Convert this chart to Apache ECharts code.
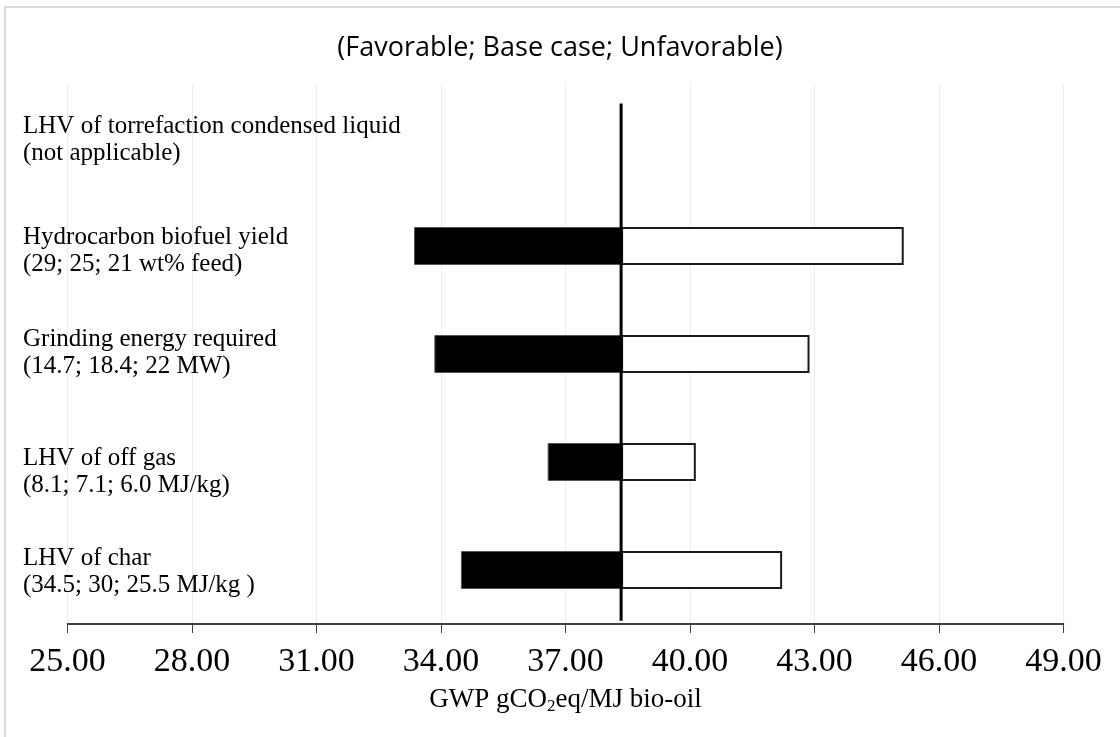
<!DOCTYPE html>
<html>
<head>
<meta charset="utf-8">
<script src="https://cdn.jsdelivr.net/npm/echarts@6/dist/echarts.min.js"></script>
<style>
  html, body { margin: 0; padding: 0; background: #fff; }
  #chart { width: 1120px; height: 737px; }
</style>
</head>
<body>
<div id="chart"></div>
<script>
// Sensitivity of GWP to key torrefaction parameters (tornado chart)
const categories = [
  'LHV of torrefaction condensed liquid\n(not applicable)',
  'Hydrocarbon biofuel yield\n(29; 25; 21 wt% feed)',
  'Grinding energy required\n(14.7; 18.4; 22 MW)',
  'LHV of off gas\n(8.1; 7.1; 6.0 MJ/kg)',
  'LHV of char\n(34.5; 30; 25.5 MJ/kg )'
];
// GWP (gCO2eq/MJ bio-oil) for the favorable and unfavorable cases
const favorable   = [null, 33.35, 33.84, 36.57, 34.48];
const unfavorable = [null, 45.15, 42.88, 40.14, 42.22];
const baseCase = 38.34;
const xTicks = { min: 25, max: 49, step: 3 };

// stacked bars: invisible offset, then the favorable span, then the unfavorable span
const offset = favorable.map(v => v == null ? null : v);
const favSpan = favorable.map(v => v == null ? null : +(baseCase - v).toFixed(3));
const unfavSpan = unfavorable.map(v => v == null ? null : +(v - baseCase).toFixed(3));

const serif = 'Liberation Serif';

// small vertical nudges for the parameter text blocks (px, downward)
const labelNudge = [2, 5, -1, 10, 2];
const labelRich = {};
labelNudge.forEach((n, i) => {
  labelRich['p' + i] = {
    fontFamily: serif, fontSize: 25, lineHeight: 27, color: '#000',
    padding: n >= 0 ? [2 * n, 0, 0, 0] : [0, 0, -2 * n, 0]
  };
});

const chart = echarts.init(document.getElementById('chart'));
chart.setOption({
  animation: false,
  backgroundColor: '#fff',
  title: {
    text: '(Favorable; Base case; Unfavorable)',
    left: 'center',
    top: 30,
    textStyle: { fontFamily: 'Open Sans', fontWeight: 'normal', fontSize: 27, color: '#000' }
  },
  graphic: [{
    type: 'rect',
    shape: { x: 5, y: 7, width: 1200, height: 800 },
    style: { fill: 'none', stroke: '#d9d9d9', lineWidth: 2 },
    silent: true
  }],
  grid: { left: 67.5, right: 56.5, top: 84, bottom: 113, containLabel: false, outerBoundsMode: 'none' },
  xAxis: {
    type: 'value',
    min: xTicks.min, max: xTicks.max, interval: xTicks.step,
    axisLine: { show: true, onZero: false, lineStyle: { color: '#000', width: 1.5 } },
    axisTick: { show: true, length: 9, lineStyle: { color: '#444', width: 1 } },
    axisLabel: {
      margin: 21,
      formatter: v => v.toFixed(2),
      fontFamily: serif, fontSize: 34, color: '#000'
    },
    splitLine: { show: true, lineStyle: { color: '#ececec', width: 1 } },
    name: '{a|GWP gCO}{s|2}{a|eq/MJ bio-oil}',
    nameLocation: 'middle',
    nameGap: 61,
    nameTextStyle: {
      rich: {
        a: { fontFamily: serif, fontSize: 27, color: '#000' },
        s: { fontFamily: serif, fontSize: 17, color: '#000', padding: [13, 0, 0, 0] }
      }
    }
  },
  yAxis: [{
    type: 'category',
    data: categories,
    inverse: true,
    axisLine: { show: false },
    axisTick: { show: false },
    splitLine: { show: false },
    axisLabel: {
      align: 'left',
      margin: 44.5,
      fontFamily: serif, fontSize: 25, lineHeight: 27, color: '#000',
      formatter: (value, index) => value.split('\n').map(line => `{p${index}|${line}}`).join('\n'),
      rich: labelRich
    }
  }, {
    type: 'value',
    min: 0, max: 5, inverse: true, show: false
  }],
  series: [{
    name: 'offset', type: 'bar', stack: 'gwp', barWidth: 38,
    data: offset, itemStyle: { color: 'transparent' }, silent: true
  }, {
    name: 'Favorable', type: 'bar', stack: 'gwp', barWidth: 38,
    data: favSpan,
    itemStyle: { color: '#000', borderColor: '#555', borderWidth: 1 }
  }, {
    name: 'Unfavorable', type: 'bar', stack: 'gwp', barWidth: 38,
    data: unfavSpan,
    itemStyle: { color: '#fff', borderColor: '#1a1a1a', borderWidth: 2 }
  }, {
    name: 'Base case', type: 'line', yAxisIndex: 1,
    data: [[baseCase, 0.18], [baseCase, 4.97]],
    symbol: 'none',
    lineStyle: { color: '#000', width: 3 },
    z: 5
  }]
});
</script>
</body>
</html>
